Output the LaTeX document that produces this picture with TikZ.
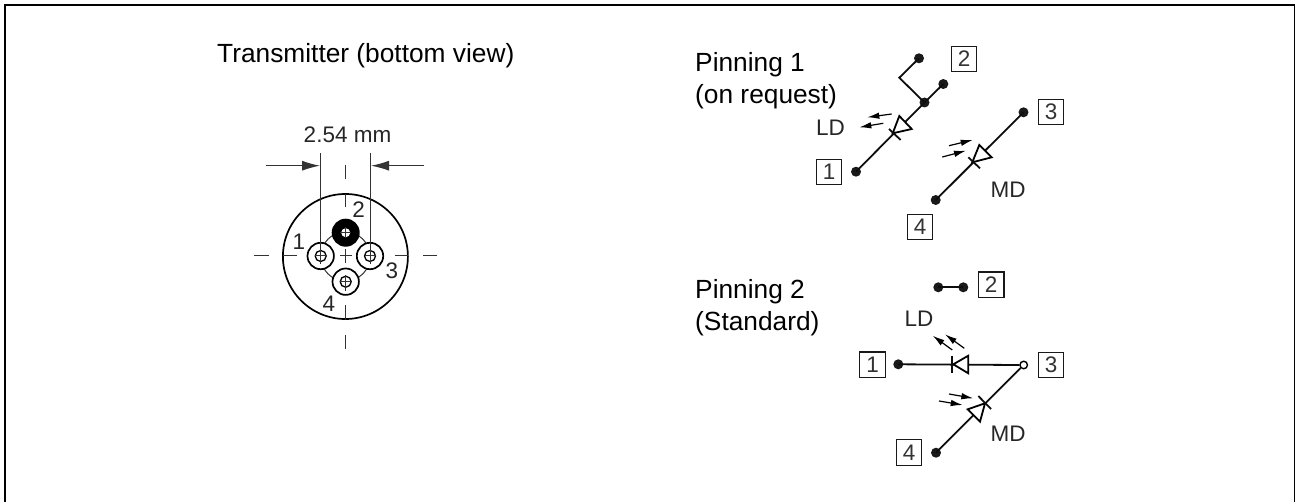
\documentclass[tikz,border=0pt]{standalone}
\usepackage{fontspec}
\setmainfont{Liberation Sans}
\usetikzlibrary{arrows.meta}
\tikzset{
 x=1pt,y=-1pt,
 lbl/.style={font=\fontsize{26.3}{30}\selectfont,text=black,inner sep=0pt},
 sml/.style={font=\fontsize{22.5}{26}\selectfont,text=black!85,inner sep=0pt},
 pinbox/.style={draw=black!90,line width=1.4pt,minimum size=25.5pt,inner sep=0pt,font=\fontsize{22.5}{26}\selectfont,text=black!80},
 term/.style={circle,fill=black!90,inner sep=0pt,minimum size=10pt},
 oterm/.style={circle,draw=black,fill=white,line width=1.4pt,inner sep=0pt,minimum size=7.5pt},
 wire/.style={line width=1.8pt,black!95},
 thinline/.style={line width=1pt,black!80},
 light/.style={-{Latex[length=12pt,width=6.5pt]},line width=1.2pt,black},
 dimarrow/.style={-{Latex[length=18pt,width=10pt]},line width=1.1pt,black!80},
 diode/.style={draw=black,fill=white,line width=1.8pt,line join=miter},
}
\begin{document}
\begin{tikzpicture}
\useasboundingbox (0,0) rectangle (1295,502);
\draw[line width=2pt] (4.5,502)--(4.5,5)--(1294.5,5)--(1294.5,502);
\node[lbl,anchor=west] (title) at (217,55.5) {Transmitter (bottom view)};
% ---- transmitter
\coordinate (c) at (345.4,256.5);
\draw[line width=1.7pt] (c) circle[radius=62.5];
\draw[thinline] (c) circle[radius=24.6];
\foreach \p/\q in {320.7/256,370/256,345.7/281.7}{
 \fill[white] (\p,\q) circle[radius=13.5];
 \draw[line width=1.7pt] (\p,\q) circle[radius=13.2];
 \draw[line width=1.3pt] (\p,\q) circle[radius=5.5];
}
\fill[black] (345.7,232.7) circle[radius=14];
\fill[white] (345.7,232.7) circle[radius=4.5];
\draw[thinline] (340,232.7)--(351.4,232.7) (345.7,227)--(345.7,238.5);
\draw[thinline] (345.7,165)--(345.7,179) (345.7,194)--(345.7,207);
\draw[thinline] (345.7,249)--(345.7,263) (340,256)--(352,256);
\draw[thinline] (345.7,305)--(345.7,320) (345.7,335)--(345.7,349);
\draw[thinline] (254,256)--(269,256) (283,256)--(297,256);
\draw[thinline] (395,256)--(408,256) (423,256)--(437,256);
\draw[thinline] (315,256)--(326,256);
\draw[thinline] (364.5,256)--(375.5,256);
\draw[thinline] (340,281.7)--(351.4,281.7) (345.7,275)--(345.7,291);
\draw[thinline] (320.7,153)--(320.7,264) (370,153)--(370,264);
\coordinate (dl) at (266,165.7); \coordinate (dlt) at (320,165.7);
\coordinate (dr) at (424.3,165.7); \coordinate (drt) at (371,165.7);
\draw[dimarrow] (dl)--(dlt);
\draw[dimarrow] (dr)--(drt);
\node[sml] (dim) at (347.5,135) {2.54 mm};
\node[sml] (p1) at (299,242) {1};
\node[sml] (p2) at (358.7,210) {2};
\node[sml] (p3) at (392,270.7) {3};
\node[sml] (p4) at (329,304) {4};
% ---- pinning 1
\node[lbl,anchor=west] (pa) at (695,64.5) {Pinning 1};
\node[lbl,anchor=west] (pb) at (695,96.5) {(on request)};
\node[sml] (ld1) at (830.5,128) {LD};
\node[sml] (md1) at (1008,190) {MD};
\node[term] (t12) at (919,58.3) {};
\node[term] (t12b) at (943.3,84) {};
\node[term] (tj) at (924.5,102.5) {};
\node[term] (t11) at (856,171.7) {};
\node[term] (t13) at (1023.5,112.3) {};
\node[term] (t14) at (935.7,200) {};
\node[pinbox] (b12) at (964,59) {2};
\node[pinbox] (b13) at (1051,112) {3};
\node[pinbox] (b11) at (829,172) {1};
\node[pinbox] (b14) at (920,227) {4};
\coordinate (kink) at (899.3,77.7);
\draw[wire] (t12.center)--(kink)--(tj.center)--(t12b.center);
\draw[wire] (tj.center)--(t11.center);
\draw[wire] (t13.center)--(t14.center);
\draw[diode] (899.3,116)--(911.7,129)--(892.7,133.3)--cycle;
\draw[wire] (889,129)--(900.7,140);
\draw[diode] (979.3,145)--(991.7,157.3)--(972.3,162.3)--cycle;
\draw[wire] (968.3,157.3)--(980,168.3);
\draw[light] (891.7,114)--(867.3,117.3);
\draw[light] (883.3,123.3)--(859.3,127.3);
\draw[light] (949,145.7)--(972.7,140);
\draw[light] (942.3,157)--(966,150.7);
% ---- pinning 2
\node[lbl,anchor=west] (pc) at (695,291.5) {Pinning 2};
\node[lbl,anchor=west] (pd) at (695,323.5) {(Standard)};
\node[sml] (ld2) at (919,319) {LD};
\node[sml] (md2) at (1008,434) {MD};
\node[term] (t22a) at (938.3,287.3) {};
\node[term] (t22) at (963.3,287.3) {};
\node[pinbox] (b22) at (991.2,284.7) {2};
\node[term] (t21) at (898.3,364.3) {};
\node[oterm] (t23) at (1023.7,365) {};
\node[pinbox] (b21) at (872.5,364.8) {1};
\node[pinbox] (b23) at (1051,365) {3};
\node[term] (t24) at (936,452.7) {};
\node[pinbox] (b24) at (909,452.5) {4};
\draw[wire] (t22a.center)--(t22.center);
\draw[wire] (t21.center)--(t23.west);
\draw[wire] (t23.south west)--(t24.center);
\draw[diode] (968.3,355.7)--(968.3,373.3)--(953.3,364.3)--cycle;
\draw[wire] (952.3,355.7)--(952.3,373.3);
\draw[diode] (967.7,409.3)--(985,403.3)--(980,421.7)--cycle;
\draw[wire] (978.3,396)--(991,409);
\draw[light] (964.3,348.3)--(945,334.3);
\draw[light] (952.3,350)--(932.7,335.7);
\draw[light] (949,394)--(973.3,398.3);
\draw[light] (939,401)--(962.7,405);
\end{tikzpicture}
\end{document}
